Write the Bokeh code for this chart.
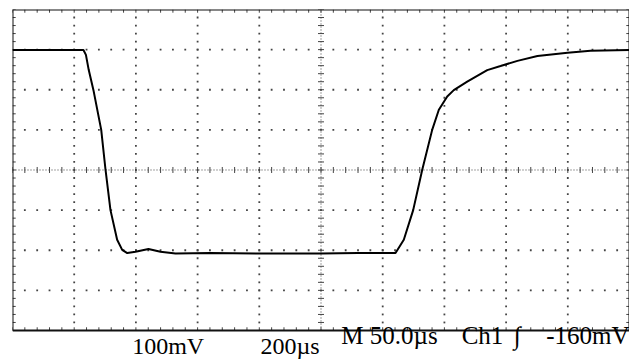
import numpy as np
from bokeh.plotting import figure
from bokeh.models import Range1d, Label
from bokeh.embed import file_html
from bokeh.resources import INLINE

# ---- data (time in µs, voltage in mV) ----
time_us = [0, 57.5, 59.5, 61.8, 65.6, 71.9, 75.4, 79.4, 84.8, 88.9, 93.0, 99.7,
           110.2, 119.9, 132.1, 160, 200, 250, 280, 310.4, 317.1, 324.7, 332.0,
           340.1, 345.5, 352.3, 357.6, 368.5, 384.7, 395.5, 409.2, 425.4, 449.8,
           468.4, 500]
volt_mv = [299, 299, 287, 249, 199, 100, 0, -100, -174, -199, -207, -204,
           -197, -204, -208, -207, -208, -208, -207, -207, -174, -100, 0,
           100, 150, 183, 199, 220, 249, 259, 272, 284, 292,
           297, 299]

x_major = [0, 50, 100, 150, 200, 250, 300, 350, 400, 450, 500]
y_major = [-400, -300, -200, -100, 0, 100, 200, 300, 400]
x_minor_step = 10
y_minor_step = 20

label_volts = "100mV"
label_time = "200µs"
label_m = "M 50.0µs"
label_ch = "Ch1"
label_trig = "∫"
label_level = "-160mV"

X0, X1 = x_major[0], x_major[-1]
Y0, Y1 = y_major[0], y_major[-1]

p = figure(width=629, height=360, output_backend="svg", toolbar_location=None,
           x_range=Range1d(X0, X1), y_range=Range1d(-474.8, Y1),
           x_axis_type=None, y_axis_type=None,
           min_border_left=12, min_border_right=0, min_border_top=9, min_border_bottom=0)
p.grid.visible = False
p.outline_line_color = None
p.background_fill_color = "white"
p.border_fill_color = "white"

xm = np.arange(X0, X1 + 0.1, x_minor_step)
ym = np.arange(Y0, Y1 + 0.1, y_minor_step)
xc = (X0 + X1) / 2
yc = 0

# dotted grid (interior major lines)
dx, dy = [], []
for gx in x_major[1:-1]:
    if gx == xc:
        continue
    for v in ym[1:-1]:
        dx.append(gx); dy.append(v)
for gy in y_major[1:-1]:
    if gy == yc:
        continue
    for t in xm[1:-1]:
        dx.append(t); dy.append(gy)
p.scatter(dx, dy, marker="square", size=1.8, color="#444444", line_color=None)

# center cross lines, finely dotted, with ticks
p.line([X0, X1], [yc, yc], line_color="#444444", line_width=1, line_dash="1 2")
p.line([xc, xc], [Y0, Y1], line_color="#444444", line_width=1, line_dash="1 2")
p.scatter(list(xm), [yc] * len(xm), marker="dash", angle=np.pi / 2, size=6,
          line_color="#444444", line_width=1)
p.scatter([xc] * len(ym), list(ym), marker="dash", size=6,
          line_color="#444444", line_width=1)

# edge ticks, pointing inward
tv = 8.0   # mV (tick length on horizontal edges)
th = 2.6   # µs (tick length on vertical edges)
p.segment(list(xm), [Y0] * len(xm), list(xm), [Y0 + tv] * len(xm), line_color="#444444", line_width=1)
p.segment(list(xm), [Y1] * len(xm), list(xm), [Y1 - tv] * len(xm), line_color="#444444", line_width=1)
p.segment([X0] * len(ym), list(ym), [X0 + th] * len(ym), list(ym), line_color="#444444", line_width=1)
p.segment([X1] * len(ym), list(ym), [X1 - th] * len(ym), list(ym), line_color="#444444", line_width=1)

# screen frame
p.line([X0, X1, X1, X0, X0], [Y0, Y0, Y1, Y1, Y0], line_color="#111111", line_width=2)

# waveform
p.line(time_us, volt_mv, line_color="black", line_width=2)

font = "Liberation Serif"
def lab(x, y, txt, size="25px", weight="normal"):
    p.add_layout(Label(x=x, y=y, text=txt, text_font=font, text_font_size=size,
                       text_font_style=weight,
                       text_color="black", text_baseline="alphabetic", text_align="left"))

lab(97.0, -439, label_volts, size="24px")
lab(201.0, -439, label_time, size="24px")
lab(266.5, -413.7, label_m)
lab(364.0, -413.7, label_ch)
lab(406.5, -413.7, label_trig, weight="bold")
lab(432.5, -413.7, label_level)

open("out.html", "w").write(file_html(p, INLINE))
